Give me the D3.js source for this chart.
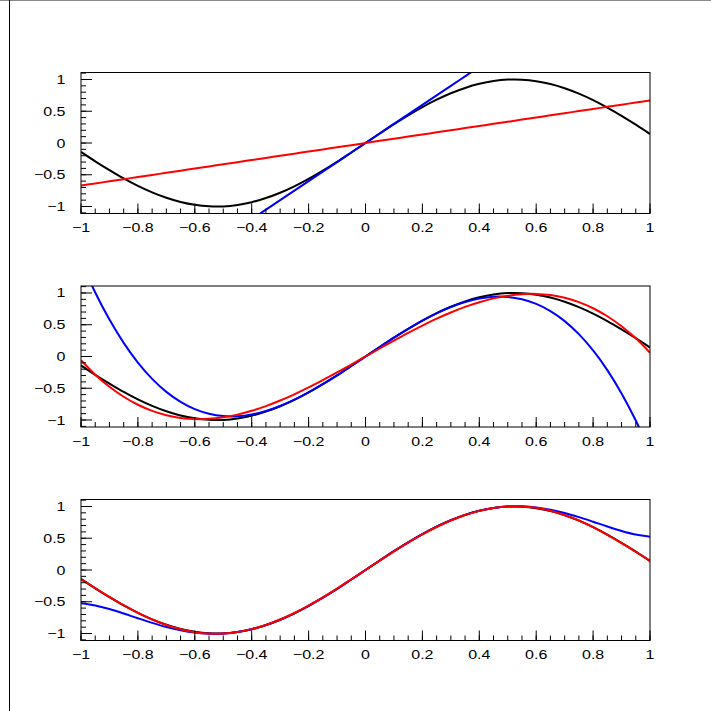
<!DOCTYPE html>
<html><head><meta charset="utf-8">
<script src="https://cdn.jsdelivr.net/npm/d3@7"></script>
<style>html,body{margin:0;padding:0;background:#fff;}svg{display:block;}</style>
</head><body>
<script>
// ---------- data ----------
const xs = [-1,-0.95,-0.9,-0.85,-0.8,-0.75,-0.7,-0.65,-0.6,-0.55,-0.5,-0.45,-0.4,-0.35,-0.3,-0.25,-0.2,-0.15,-0.1,-0.05,0,
  0.05,0.1,0.15,0.2,0.25,0.3,0.35,0.4,0.45,0.5,0.55,0.6,0.65,0.7,0.75,0.8,0.85,0.9,0.95,1];

// black reference curve (same in all panels)
const target = [-0.141,-0.288,-0.427,-0.558,-0.676,-0.778,-0.863,-0.929,-0.974,-0.997,-0.998,-0.976,-0.932,-0.867,-0.783,-0.682,-0.565,-0.435,-0.296,-0.149,0,
  0.149,0.296,0.435,0.565,0.682,0.783,0.867,0.932,0.976,0.998,0.997,0.974,0.929,0.863,0.778,0.676,0.558,0.427,0.288,0.141];

// panel 1
const blue1 = [-3,-2.85,-2.7,-2.55,-2.4,-2.25,-2.1,-1.95,-1.8,-1.65,-1.5,-1.35,-1.2,-1.05,-0.9,-0.75,-0.6,-0.45,-0.3,-0.15,0,
  0.15,0.3,0.45,0.6,0.75,0.9,1.05,1.2,1.35,1.5,1.65,1.8,1.95,2.1,2.25,2.4,2.55,2.7,2.85,3];
const red1 = [-0.670,-0.637,-0.603,-0.570,-0.536,-0.503,-0.469,-0.436,-0.402,-0.369,-0.335,-0.302,-0.268,-0.235,-0.201,-0.168,-0.134,-0.101,-0.067,-0.034,0,
  0.034,0.067,0.101,0.134,0.168,0.201,0.235,0.268,0.302,0.335,0.369,0.402,0.436,0.469,0.503,0.536,0.570,0.603,0.637,0.670];

// panel 2
const blue2 = [1.5,1.008,0.581,0.214,-0.096,-0.352,-0.557,-0.714,-0.828,-0.901,-0.938,-0.940,-0.912,-0.857,-0.779,-0.680,-0.564,-0.435,-0.296,-0.149,0,
  0.149,0.296,0.435,0.564,0.680,0.779,0.857,0.912,0.940,0.938,0.901,0.828,0.714,0.557,0.352,0.096,-0.214,-0.581,-1.008,-1.5];
const red2 = [-0.060,-0.286,-0.477,-0.634,-0.760,-0.857,-0.925,-0.967,-0.986,-0.982,-0.957,-0.915,-0.855,-0.781,-0.693,-0.595,-0.487,-0.372,-0.251,-0.126,0,
  0.126,0.251,0.372,0.487,0.595,0.693,0.781,0.855,0.915,0.957,0.982,0.986,0.967,0.925,0.857,0.760,0.634,0.477,0.286,0.060];

// panel 3
const blue3 = [-0.525,-0.559,-0.615,-0.685,-0.760,-0.832,-0.897,-0.949,-0.986,-1.003,-1.001,-0.977,-0.933,-0.868,-0.783,-0.682,-0.565,-0.435,-0.296,-0.149,0,
  0.149,0.296,0.435,0.565,0.682,0.783,0.868,0.933,0.977,1.001,1.003,0.986,0.949,0.897,0.832,0.760,0.685,0.615,0.559,0.525];
const red3 = [-0.146,-0.285,-0.423,-0.554,-0.674,-0.780,-0.867,-0.934,-0.979,-1.001,-1.000,-0.977,-0.931,-0.865,-0.779,-0.677,-0.560,-0.430,-0.292,-0.148,0,
  0.148,0.292,0.430,0.560,0.677,0.779,0.865,0.931,0.977,1.000,1.001,0.979,0.934,0.867,0.780,0.674,0.554,0.423,0.285,0.146];

const xTickValues = [-1,-0.8,-0.6,-0.4,-0.2,0,0.2,0.4,0.6,0.8,1];
const xTickLabels = ["\u22121","\u22120.8","\u22120.6","\u22120.4","\u22120.2","0","0.2","0.4","0.6","0.8","1"];
const yTickValues = [-1,-0.5,0,0.5,1];
const yTickLabels = ["\u22121","\u22120.5","0","0.5","1"];

const panels = [
  {series:[{v:target,c:"#000"},{v:blue1,c:"#0000ff"},{v:red1,c:"#ff0000"}]},
  {series:[{v:target,c:"#000"},{v:blue2,c:"#0000ff"},{v:red2,c:"#ff0000"}]},
  {series:[{v:target,c:"#000"},{v:blue3,c:"#0000ff"},{v:red3,c:"#ff0000"}]}
];

// ---------- layout ----------
const W = 711, H = 711;
const left = 81, right = 650;
const tops = [72.5, 286, 499.5];
const ph = 141;
const yDom = [-1.11, 1.11];
const fs = 12.5, sx = 1.28;

const svg = d3.select("body").append("svg").attr("width", W).attr("height", H)
  .style("font-family", "'Liberation Sans', Arial, Helvetica, sans-serif");

// canvas border
svg.append("line").attr("x1",0).attr("x2",W).attr("y1",0.5).attr("y2",0.5).attr("stroke","#888").attr("stroke-width",1);
svg.append("line").attr("x1",9.5).attr("x2",9.5).attr("y1",0).attr("y2",H).attr("stroke","#000").attr("stroke-width",1);

const x = d3.scaleLinear().domain([-1,1]).range([left, right]);

panels.forEach((p, i) => {
  const top = tops[i], bottom = top + ph;
  const y = d3.scaleLinear().domain(yDom).range([bottom, top]);
  const g = svg.append("g");

  const cid = "clip" + i;
  svg.append("clipPath").attr("id", cid).append("rect")
    .attr("x", left).attr("y", top).attr("width", right-left).attr("height", ph);

  const line = d3.line().x((d,j) => x(xs[j])).y(d => y(d)).curve(d3.curveCatmullRom.alpha(0.5));
  const cg = g.append("g").attr("clip-path", `url(#${cid})`);
  p.series.forEach(s => {
    cg.append("path").attr("d", line(s.v)).attr("fill","none")
      .attr("stroke", s.c).attr("stroke-width", 2).attr("stroke-linejoin","round");
  });

  // frame
  g.append("rect").attr("x", left).attr("y", top).attr("width", right-left).attr("height", ph)
    .attr("fill","none").attr("stroke","#000").attr("stroke-width",1);

  // x ticks
  const xMinor = d3.range(-1, 1.0001, 0.05);
  g.selectAll(".xmn").data(xMinor).enter().append("line")
    .attr("x1", d=>x(d)).attr("x2", d=>x(d)).attr("y1", bottom).attr("y2", bottom-5)
    .attr("stroke","#000").attr("stroke-width",1);
  g.selectAll(".xmj").data(xTickValues).enter().append("line")
    .attr("x1", d=>x(d)).attr("x2", d=>x(d)).attr("y1", bottom).attr("y2", bottom-10)
    .attr("stroke","#000").attr("stroke-width",1);
  g.selectAll(".xl").data(xTickValues).enter().append("text")
    .attr("transform", d=>`translate(${x(d)},${bottom+18.5}) scale(${sx},1)`)
    .attr("text-anchor","middle")
    .attr("font-size", fs).attr("fill","#000")
    .text((d,j)=>xTickLabels[j]);

  // y ticks
  const yMinor = d3.range(-1.1, 1.1001, 0.1);
  g.selectAll(".ymn").data(yMinor).enter().append("line")
    .attr("x1", left).attr("x2", left+5).attr("y1", d=>y(d)).attr("y2", d=>y(d))
    .attr("stroke","#000").attr("stroke-width",1);
  g.selectAll(".ymj").data(yTickValues).enter().append("line")
    .attr("x1", left).attr("x2", left+11).attr("y1", d=>y(d)).attr("y2", d=>y(d))
    .attr("stroke","#000").attr("stroke-width",1);
  g.selectAll(".yl").data(yTickValues).enter().append("text")
    .attr("transform", d=>`translate(65.5,${y(d)+4.5}) scale(${sx},1)`)
    .attr("text-anchor","end")
    .attr("font-size", fs).attr("fill","#000")
    .text((d,j)=>yTickLabels[j]);
});
</script>
</body></html>
